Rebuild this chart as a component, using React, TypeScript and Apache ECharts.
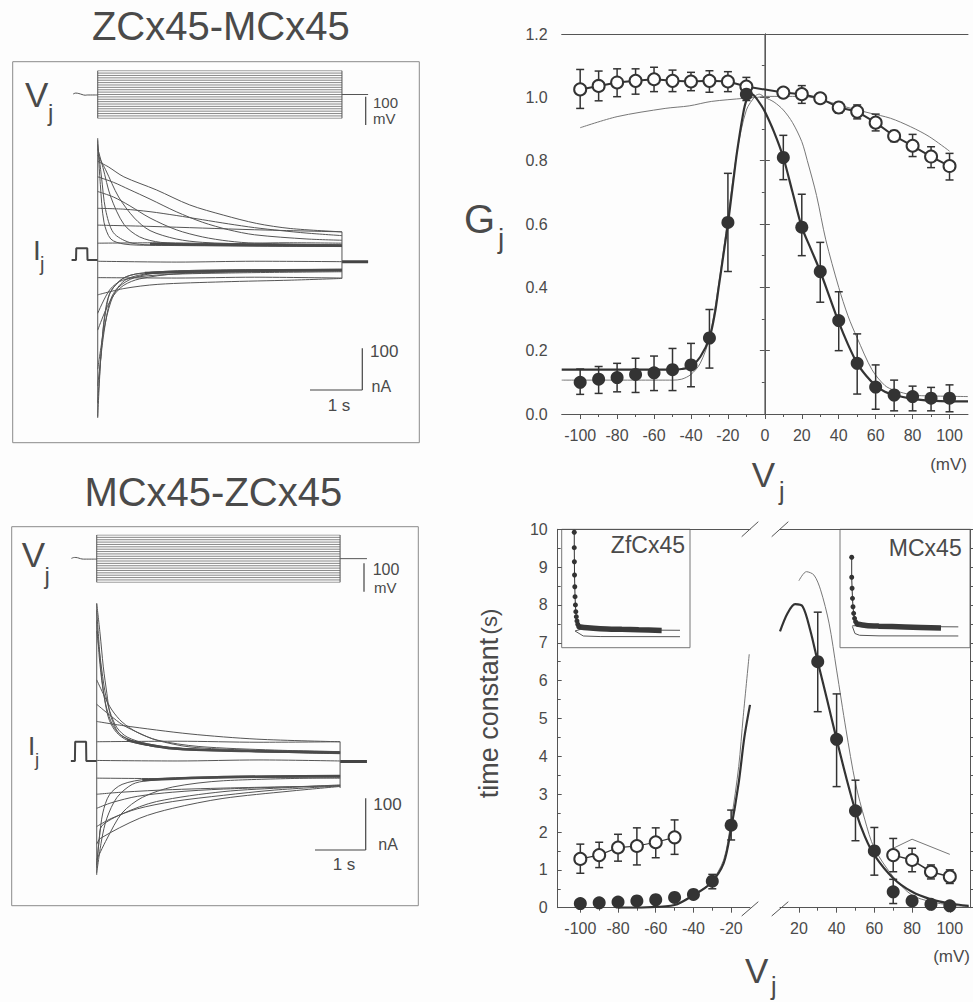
import React, { useEffect, useRef } from "react";
import * as echarts from "echarts";

const FONT = '"Liberation Sans", Arial, Helvetica, sans-serif';
const INK = "#333333";
const THIN = "#777777";
const AXIS = "#555555";
const TXT = "#4a4a4a";
const TRACE = "#555555";

// ---------- left panels: voltage protocol ----------
const VSTEPS = [-100, -90, -80, -70, -60, -50, -40, -30, -20, -10, 0, 10, 20, 30, 40, 50, 60, 70, 80, 90, 100];

// Panel A : ZCx45-MCx45  (time in s, current in nA, voltage in mV)
const A_T_END = 4.67;
const A_VJ_PRE = [[-0.47, 2], [-0.42, 6], [-0.36, 4], [-0.3, 0], [-0.24, -3], [-0.2, -2], [0, -2]];
const A_VJ_POST = [[4.67, 0], [5.17, 0]];
const A_IJ_PRE = [[-0.5, 0], [-0.415, 0], [-0.41, 28], [-0.2, 28], [-0.195, 0], [0, 0]];
const A_IJ_POST = [[4.67, -4], [5.17, -4]];
const A_SPIKE = [[0, 290], [0, -376]];
const A_END = [[4.67, 67], [4.67, -44]];
const A_TRACES = [
  [[0, 40], [1.2, 41], [2.4, 39], [3.6, 41], [4.67, 40]],
  [[0, 83], [1, 80], [2, 76], [3, 72], [4.67, 67]],
  [[0, 123], [0.5, 121], [1, 115], [1.5, 106], [2, 96], [2.5, 86], [3, 77], [3.5, 70], [4, 64], [4.67, 58]],
  [[0, 235], [0.2, 222], [0.5, 198], [1.12, 167], [1.76, 131], [2.4, 107], [3.04, 87], [3.68, 75], [4.67, 67]],
  [[0, 198], [0.3, 185], [0.6, 168], [1, 145], [1.5, 115], [2, 90], [2.5, 72], [3, 60], [4, 50], [4.67, 47]],
  [[0, 163], [0.3, 150], [0.6, 130], [1, 100], [1.5, 72], [2, 55], [2.5, 45], [3, 40], [4.67, 36]],
  [[0, 250], [0.15, 215], [0.4, 150], [0.7, 100], [1, 70], [1.5, 50], [2, 42], [3, 38], [4.67, 36]],
  [[0, 265], [0.1, 220], [0.25, 150], [0.5, 85], [0.8, 55], [1.2, 42], [2, 37], [4.67, 34]],
  [[0, 275], [0.07, 200], [0.15, 120], [0.3, 65], [0.6, 42], [1, 36], [4.67, 33]],
  [[0, 285], [0.05, 180], [0.12, 90], [0.25, 50], [0.5, 38], [1, 35], [4.67, 32]],
  [[0, -3], [1.5, -5], [3, -3], [4.67, -4]],
  [[0, -42], [1.5, -43], [3, -41], [4.67, -43]],
  [[0, -83], [0.5, -68], [1.15, -58], [2.4, -52], [3.7, -48], [4.67, -44]],
  [[0, -127], [0.23, -71], [0.48, -48], [1.12, -36], [2.5, -31], [4.67, -28]],
  [[0, -167], [0.15, -120], [0.3, -85], [0.5, -60], [0.8, -45], [1.5, -33], [3, -28], [4.67, -26]],
  [[0, -260], [0.12, -165], [0.25, -100], [0.4, -65], [0.7, -42], [1.2, -30], [2.5, -25], [4.67, -23]],
  [[0, -300], [0.1, -190], [0.2, -115], [0.3, -80], [0.55, -46], [1, -32], [2, -26], [4.67, -24]],
  [[0, -340], [0.07, -214], [0.13, -135], [0.23, -79], [0.48, -44], [0.8, -32], [1.76, -25], [4.67, -23]],
  [[0, -373], [0.05, -250], [0.1, -170], [0.17, -110], [0.25, -75], [0.48, -44], [0.8, -32], [1.76, -25], [4.67, -22]],
];
const A_BANDS = [
  [[1.0, 38], [2.5, 36], [4.67, 34]],
  [[0.9, -31], [2.5, -26], [4.67, -24]],
];

// Panel B : MCx45-ZCx45
const B_T_END = 4.8;
const B_VJ_PRE = [[-0.5, 1], [-0.44, 5], [-0.38, 4], [-0.32, 0], [-0.26, -2], [-0.2, -2], [0, -2]];
const B_VJ_POST = [[4.8, 0], [5.33, 0]];
const B_IJ_PRE = [[-0.51, 0], [-0.43, 0], [-0.425, 37], [-0.21, 37], [-0.205, 0], [0, 0]];
const B_IJ_POST = [[4.8, -1], [5.33, -1]];
const B_SPIKE = [[0, 303], [0, -219]];
const B_END = [[4.8, 37], [4.8, -52]];
const B_TRACES = [
  [[0, 37], [1.6, 38], [3.2, 36], [4.8, 37]],
  [[0, 76], [0.52, 68], [1.84, 52], [3.16, 42], [4.8, 37]],
  [[0, 109], [0.26, 88], [0.52, 69], [0.85, 53], [1.18, 40], [1.84, 27], [3, 21], [4.8, 18]],
  [[0, 156], [0.15, 125], [0.3, 98], [0.5, 75], [0.8, 55], [1.2, 40], [2, 28], [3.5, 21], [4.8, 18]],
  [[0, 250], [0.08, 190], [0.16, 135], [0.26, 95], [0.4, 64], [0.6, 46], [1, 33], [1.6, 25], [3, 19], [4.8, 16]],
  [[0, 270], [0.05, 200], [0.12, 140], [0.2, 100], [0.3, 72], [0.45, 52], [0.7, 38], [1.2, 28], [2.5, 20], [4.8, 14]],
  [[0, 290], [0.05, 220], [0.1, 160], [0.17, 110], [0.25, 78], [0.39, 55], [0.6, 40], [1, 30], [2, 22], [4.8, 16]],
  [[0, 303], [0.065, 246], [0.13, 181], [0.2, 130], [0.26, 92], [0.39, 60], [0.52, 47], [0.85, 34], [1.18, 27], [1.84, 21], [4.8, 15]],
  [[0, 1], [1.6, 0], [3.2, 2], [4.8, 0]],
  [[0, -33], [1.6, -34], [3.2, -32], [4.8, -33]],
  [[0, -64], [0.5, -60], [1.5, -55], [3, -51], [4.8, -48]],
  [[0, -91], [0.3, -80], [0.8, -68], [1.5, -60], [2.5, -54], [4.8, -47]],
  [[0, -126], [0.3, -110], [0.8, -92], [1.5, -78], [2.5, -66], [3.5, -56], [4.8, -48]],
  [[0, -160], [0.07, -149], [0.85, -110], [1.5, -91], [2.49, -72], [3.81, -58], [4.8, -49]],
  [[0, -200], [0.05, -150], [0.1, -125], [0.52, -101], [1.18, -78], [2.49, -59], [3.8, -51], [4.8, -46]],
  [[0, -215], [0.1, -150], [0.2, -110], [0.4, -70], [0.7, -45], [1, -38], [2, -32], [4.8, -30]],
  [[0, -205], [0.05, -150], [0.12, -100], [0.25, -65], [0.5, -45], [1, -35], [2.5, -30], [4.8, -28]],
  [[0, -190], [0.2, -150], [0.5, -100], [0.9, -70], [1.5, -50], [2.5, -38], [4.8, -32]],
];
const B_BANDS = [
  [[0.6, 40], [1.5, 24], [3, 19], [4.8, 16]],
  [[0.9, -37], [2.5, -31], [4.8, -29]],
];

// ---------- Gj vs Vj ----------
const GJ_V = [-100, -90, -80, -70, -60, -50, -40, -30, -20, -10, 10, 20, 30, 40, 50, 60, 70, 80, 90, 100];
const GJ_FILLED = [0.10, 0.11, 0.115, 0.125, 0.13, 0.14, 0.155, 0.24, 0.605, 1.01, 0.81, 0.59, 0.45, 0.295, 0.16, 0.085, 0.06, 0.055, 0.05, 0.05];
const GJ_FILLED_LO = [0.062, 0.065, 0.07, 0.068, 0.074, 0.074, 0.086, 0.145, 0.45, 0.99, 0.74, 0.5, 0.353, 0.2, 0.063, 0.015, 0.01, 0.01, 0.01, 0.007];
const GJ_FILLED_HI = [0.142, 0.15, 0.16, 0.176, 0.183, 0.207, 0.223, 0.33, 0.76, 1.03, 0.88, 0.694, 0.542, 0.386, 0.253, 0.155, 0.107, 0.088, 0.084, 0.092];
const GJ_OPEN = [1.025, 1.036, 1.047, 1.052, 1.057, 1.052, 1.05, 1.052, 1.05, 1.034, 1.015, 1.01, 0.997, 0.968, 0.955, 0.92, 0.878, 0.847, 0.813, 0.783];
const GJ_OPEN_LO = [0.965, 0.989, 1.002, 1.01, 1.018, 1.018, 1.021, 1.016, 1.018, 1.0, 1.0, 0.981, 0.982, 0.95, 0.932, 0.894, 0.86, 0.813, 0.778, 0.739];
const GJ_OPEN_HI = [1.088, 1.083, 1.09, 1.09, 1.095, 1.086, 1.079, 1.084, 1.081, 1.063, 1.03, 1.037, 1.012, 0.984, 0.976, 0.947, 0.895, 0.883, 0.844, 0.823];
const GJ_THICK_V = [-110, -50, -45, -40, -35, -30, -27, -25, -22, -20, -17, -15, -12, -10, -7, -5, -2, 0, 5, 10, 15, 20, 25, 30, 35, 40, 45, 50, 55, 60, 65, 70, 80, 90, 100, 110];
const GJ_THICK = [0.14, 0.14, 0.142, 0.15, 0.18, 0.24, 0.32, 0.40, 0.52, 0.60, 0.74, 0.83, 0.94, 0.99, 1.01, 1.0, 0.975, 0.955, 0.89, 0.81, 0.70, 0.59, 0.52, 0.45, 0.37, 0.29, 0.22, 0.16, 0.12, 0.09, 0.07, 0.06, 0.048, 0.042, 0.04, 0.04];
const GJ_THIN_V = [-110, -50, -45, -40, -35, -30, -25, -20, -15, -10, -5, -3, 0, 5, 10, 15, 20, 23, 28, 33, 40, 45, 50, 58, 65, 70, 80, 90, 100, 110];
const GJ_THIN = [0.107, 0.107, 0.11, 0.125, 0.16, 0.24, 0.41, 0.62, 0.83, 0.96, 1.005, 1.01, 1.0, 0.985, 0.96, 0.92, 0.86, 0.80, 0.69, 0.55, 0.40, 0.31, 0.24, 0.14, 0.09, 0.075, 0.06, 0.057, 0.056, 0.055];
const GJ_OTHIN_V = [-100, -80, -54, -41, -29, -11, -4, 0, 10, 20, 25, 34, 43, 57, 68, 79, 89, 100];
const GJ_OTHIN = [0.904, 0.939, 0.965, 0.973, 0.987, 0.997, 1.0, 1.003, 1.003, 1.003, 1.0, 0.987, 0.971, 0.95, 0.934, 0.907, 0.876, 0.83];
const GJ_XTICKS = [-100, -80, -60, -40, -20, 0, 20, 40, 60, 80, 100];
const GJ_XMINOR = [-90, -70, -50, -30, -10, 10, 30, 50, 70, 90];
const GJ_ZERO_LINE = [[0, 0], [0, 1.2]];

// ---------- time constant vs Vj ----------
const TAU_NEG_V = [-100, -90, -80, -70, -60, -50, -40, -30, -20];
const TAU_NEG_FILLED = [0.11, 0.13, 0.15, 0.18, 0.21, 0.27, 0.35, 0.70, 2.18];
const TAU_NEG_ERR_V = [-30, -20];
const TAU_NEG_ERR_LO = [0.5, 1.79];
const TAU_NEG_ERR_HI = [0.88, 2.58];
const TAU_POS_V = [30, 40, 50, 60, 70, 80, 90, 100];
const TAU_POS_FILLED = [6.5, 4.45, 2.56, 1.5, 0.42, 0.18, 0.09, 0.05];
const TAU_POS_ERR_V = [30, 40, 50, 60, 70];
const TAU_POS_ERR_LO = [5.18, 3.2, 1.77, 0.86, 0.11];
const TAU_POS_ERR_HI = [7.81, 5.65, 3.37, 2.12, 0.75];
const TAU_NEG_OPEN_V = [-100, -90, -80, -70, -60, -50];
const TAU_NEG_OPEN = [1.29, 1.39, 1.59, 1.63, 1.73, 1.86];
const TAU_NEG_OPEN_LO = [0.91, 1.06, 1.23, 1.13, 1.32, 1.41];
const TAU_NEG_OPEN_HI = [1.68, 1.73, 1.94, 2.11, 2.11, 2.32];
const TAU_POS_OPEN_V = [70, 80, 90, 100];
const TAU_POS_OPEN = [1.39, 1.26, 0.95, 0.82];
const TAU_POS_OPEN_LO = [0.95, 0.95, 0.76, 0.64];
const TAU_POS_OPEN_HI = [1.83, 1.57, 1.13, 1.0];
const TAU_POS_OPEN_FIT_V = [70, 80, 100];
const TAU_POS_OPEN_FIT = [1.57, 1.81, 1.41];
const TAU_THICK_NEG_V = [-80, -65, -50, -40, -31, -24, -20, -16, -13, -10];
const TAU_THICK_NEG = [0, 0.01, 0.07, 0.33, 0.64, 1.17, 2.1, 3.3, 4.5, 5.36];
const TAU_THIN_NEG_V = [-45, -40, -31, -24, -20, -16, -13.6, -10.4];
const TAU_THIN_NEG = [0.2, 0.34, 0.66, 1.26, 2.3, 3.73, 5.05, 6.7];
const TAU_THICK_POS_V = [10, 14, 18, 22, 26, 30, 35, 40, 45, 50, 55, 60, 70, 80, 90, 100, 110];
const TAU_THICK_POS = [7.3, 7.78, 8.02, 7.96, 7.34, 6.5, 5.49, 4.45, 3.46, 2.56, 1.88, 1.39, 0.78, 0.42, 0.22, 0.11, 0.05];
const TAU_THIN_POS_V = [20, 24, 28, 31.5, 36, 40, 45, 50, 55, 60, 70, 80, 90, 100, 110];
const TAU_THIN_POS = [8.64, 8.88, 8.79, 8.4, 7.52, 6.28, 4.7, 3.29, 2.32, 1.57, 0.82, 0.33, 0.16, 0.07, 0.03];
const TAU_XL_TICKS = [-100, -80, -60, -40, -20];
const TAU_XL_MINOR = [-90, -70, -50, -30];
const TAU_XR_TICKS = [20, 40, 60, 80, 100];
const TAU_XR_MINOR = [30, 50, 70, 90];

// ---------- insets (arbitrary units 0..100) ----------
const IN1_DOTS = [[9.8, 97.5], [9.8, 84.5], [9.9, 72.6], [10, 61.4], [10.2, 51.5], [10.4, 43.1], [10.7, 36.1], [11, 30.4], [11.4, 26.2], [11.9, 22.6], [12.5, 19.8], [13.3, 17.7]];
const IN1_TAIL = [[13.3, 17.7], [20, 16.8], [30, 16.1], [46.8, 15.5], [60, 15.1], [77.9, 14.6]];
const IN1_FIT_A = [[10.4, 14.1], [15, 15.6], [30, 15.2], [60, 14.9], [92.2, 14.7]];
const IN1_FIT_B = [[10.4, 14.1], [16.8, 9.9], [30, 9.4], [92.2, 9.3]];
const IN2_DOTS = [[9, 76.4], [9, 59.5], [9.3, 50.2], [9.6, 41.7], [10, 34.6], [10.5, 29], [11.2, 24.8], [12, 22], [13, 20]];
const IN2_TAIL = [[13, 20], [20, 18.8], [30, 18.2], [50, 17.5], [77.7, 16.6]];
const IN2_FIT_A = [[9.5, 18.5], [14, 18.6], [50, 17.9], [91, 17.6]];
const IN2_FIT_B = [[9.5, 18], [11.5, 12], [15, 10.5], [30, 10], [91, 9.9]];

const zip = (xs: number[], ys: number[]) => xs.map((x, i) => [x, ys[i]]);

function lineS(data: any[], xi: number, yi: number, color: string, width: number, extra: any = {}) {
  return {
    type: "line", xAxisIndex: xi, yAxisIndex: yi, data, showSymbol: false, symbol: "none",
    lineStyle: { color, width, opacity: 1 }, silent: true, z: 2, ...extra,
  };
}

function errBars(V: number[], lo: number[], hi: number[], xi: number, yi: number, half = 4) {
  return {
    type: "custom", xAxisIndex: xi, yAxisIndex: yi, z: 3, silent: true,
    data: V.map((v, i) => [v, lo[i], hi[i]]),
    encode: { x: 0, y: [1, 2] },
    renderItem: (_p: any, api: any) => {
      const v = api.value(0);
      const a = api.coord([v, api.value(1)]);
      const b = api.coord([v, api.value(2)]);
      const st = { stroke: INK, lineWidth: 1.5, fill: null };
      return {
        type: "group",
        children: [
          { type: "line", shape: { x1: a[0], y1: a[1], x2: b[0], y2: b[1] }, style: st },
          { type: "line", shape: { x1: a[0] - half, y1: a[1], x2: a[0] + half, y2: a[1] }, style: st },
          { type: "line", shape: { x1: b[0] - half, y1: b[1], x2: b[0] + half, y2: b[1] }, style: st },
        ],
      };
    },
  };
}

const hiddenX = (g: number, min: number, max: number) => ({ type: "value", gridIndex: g, min, max, show: false });
const hiddenY = (g: number, min: number, max: number) => ({ type: "value", gridIndex: g, min, max, show: false });
const axLine = { show: true, lineStyle: { color: AXIS, width: 1 } };
const lbl = { color: TXT, fontSize: 16, fontFamily: FONT };

function txt(text: string, x: number, y: number, size: number, align = "left", extra: any = {}) {
  return {
    type: "text", x, y, silent: true, ...extra,
    style: { text, fontSize: size, fontFamily: FONT, fill: TXT, align, verticalAlign: "middle" },
  };
}
function seg(x1: number, y1: number, x2: number, y2: number, color = AXIS, w = 1) {
  return { type: "line", silent: true, shape: { x1, y1, x2, y2 }, style: { stroke: color, lineWidth: w } };
}

const filledStyle = { color: INK, opacity: 1 };
const openStyle = { color: "#fff", borderColor: INK, borderWidth: 2, opacity: 1 };

function buildOption() {
  const grid = (left: number, top: number, width: number, height: number) => ({ left, top, width, height, containLabel: false, outerBoundsMode: "none" });
  const grids = [
    grid(70, 70.7, 300, 47.6), // 0 A Vj
    grid(70, 130, 300, 300), // 1 A Ij
    grid(70, 535, 300, 47.3), // 2 B Vj
    grid(70, 595, 300, 290), // 3 B Ij
    grid(561.7, 34, 406.3, 380), // 4 Gj
    grid(557.7, 529.3, 192.3, 378.4), // 5 tau left
    grid(780, 529.3, 190, 378.4), // 6 tau right
    grid(561.7, 529.3, 128.3, 118.4), // 7 inset1
    grid(840, 529.3, 130, 118.4), // 8 inset2
  ];

  const xAxis: any[] = [
    hiddenX(0, -0.53, 5.206), // 0
    hiddenX(1, -0.53, 5.206), // 1
    hiddenX(2, -0.527, 5.39), // 2
    hiddenX(3, -0.527, 5.39), // 3
    { type: "value", gridIndex: 4, min: -110, max: 110, position: "bottom", axisLine: axLine,
      axisTick: { show: true, customValues: GJ_XTICKS, length: 5, lineStyle: { color: AXIS } },
      axisLabel: { ...lbl, customValues: GJ_XTICKS, margin: 13 }, splitLine: { show: false } }, // 4
    { type: "value", gridIndex: 4, min: -110, max: 110, position: "bottom", axisLine: { show: false },
      axisTick: { show: true, customValues: GJ_XMINOR, length: 3, lineStyle: { color: AXIS } },
      axisLabel: { show: false }, splitLine: { show: false } }, // 5
    { type: "value", gridIndex: 4, min: -110, max: 110, position: "top", axisLine: axLine,
      axisTick: { show: false }, axisLabel: { show: false }, splitLine: { show: false } }, // 6
    { type: "value", gridIndex: 5, min: -112, max: -10, position: "bottom", axisLine: axLine,
      axisTick: { show: true, customValues: TAU_XL_TICKS, length: 5, lineStyle: { color: AXIS } },
      axisLabel: { ...lbl, customValues: TAU_XL_TICKS, margin: 13 }, splitLine: { show: false } }, // 7
    { type: "value", gridIndex: 5, min: -112, max: -10, position: "bottom", axisLine: { show: false },
      axisTick: { show: true, customValues: TAU_XL_MINOR, length: 3, lineStyle: { color: AXIS } },
      axisLabel: { show: false }, splitLine: { show: false } }, // 8
    { type: "value", gridIndex: 5, min: -112, max: -10, position: "top", axisLine: axLine,
      axisTick: { show: false }, axisLabel: { show: false }, splitLine: { show: false } }, // 9
    { type: "value", gridIndex: 6, min: 10, max: 110.7, position: "bottom", axisLine: axLine,
      axisTick: { show: true, customValues: TAU_XR_TICKS, length: 5, lineStyle: { color: AXIS } },
      axisLabel: { ...lbl, customValues: TAU_XR_TICKS, margin: 13 }, splitLine: { show: false } }, // 10
    { type: "value", gridIndex: 6, min: 10, max: 110.7, position: "bottom", axisLine: { show: false },
      axisTick: { show: true, customValues: TAU_XR_MINOR, length: 3, lineStyle: { color: AXIS } },
      axisLabel: { show: false }, splitLine: { show: false } }, // 11
    { type: "value", gridIndex: 6, min: 10, max: 110.7, position: "top", axisLine: axLine,
      axisTick: { show: false }, axisLabel: { show: false }, splitLine: { show: false } }, // 12
    hiddenX(7, 0, 100), // 13
    hiddenX(8, 0, 100), // 14
  ];

  const yAxis: any[] = [
    hiddenY(0, -100, 100), // 0
    hiddenY(1, -404.8, 309.5), // 1
    hiddenY(2, -100, 100), // 2
    hiddenY(3, -238.5, 319.2), // 3
    { type: "value", gridIndex: 4, min: 0, max: 1.2, interval: 0.2, position: "left", axisLine: axLine,
      axisTick: { show: true, length: 5, lineStyle: { color: AXIS } },
      minorTick: { show: true, splitNumber: 2, length: 3, lineStyle: { color: AXIS } },
      axisLabel: { ...lbl, margin: 14, formatter: (v: number) => v.toFixed(1) },
      splitLine: { show: false }, minorSplitLine: { show: false } }, // 4
    { type: "value", gridIndex: 4, min: 0, max: 1.2, interval: 0.2, position: "right", axisLine: axLine,
      axisTick: { show: true, length: 5, lineStyle: { color: AXIS } }, axisLabel: { show: false },
      splitLine: { show: false } }, // 5
    { type: "value", gridIndex: 5, min: 0, max: 10, interval: 1, position: "left", axisLine: axLine,
      axisTick: { show: true, inside: true, length: 4, lineStyle: { color: AXIS } },
      minorTick: { show: true, splitNumber: 2, length: 3, lineStyle: { color: AXIS } },
      axisLabel: { ...lbl, margin: 10 }, splitLine: { show: false }, minorSplitLine: { show: false } }, // 6
    { type: "value", gridIndex: 6, min: 0, max: 10, interval: 1, position: "right", axisLine: axLine,
      axisTick: { show: true, length: 5, lineStyle: { color: AXIS } },
      minorTick: { show: true, splitNumber: 2, length: 3, lineStyle: { color: AXIS } },
      axisLabel: { show: false }, splitLine: { show: false }, minorSplitLine: { show: false } }, // 7
    hiddenY(7, 0, 100), // 8
    hiddenY(8, 0, 100), // 9
  ];

  const series: any[] = [];
  // ---- left panels ----
  const panel = (xv: number, yv: number, xi: number, yi: number, tEnd: number, vPre: any, vPost: any,
    iPre: any, iPost: any, spike: any, end: any, traces: any[], bands: any[]) => {
    VSTEPS.forEach((v) => series.push(lineS([[0, v], [tEnd, v]], xv, yv, "#6a6a6a", 0.8)));
    series.push(lineS([[0, -100], [0, 100]], xv, yv, "#555", 1));
    series.push(lineS([[tEnd, -100], [tEnd, 100]], xv, yv, "#555", 1));
    series.push(lineS(vPre, xv, yv, "#555", 1, { smooth: 0.4 }));
    series.push(lineS(vPost, xv, yv, "#555", 1));
    series.push(lineS(iPre, xi, yi, "#444", 2));
    series.push(lineS(iPost, xi, yi, "#444", 3));
    series.push(lineS(spike, xi, yi, TRACE, 1));
    series.push(lineS(end, xi, yi, TRACE, 1));
    traces.forEach((t) => series.push(lineS(t, xi, yi, TRACE, 1, { smooth: 0.3 })));
    bands.forEach((t) => series.push(lineS(t, xi, yi, "#4a4a4a", 2.5, { smooth: 0.3 })));
  };
  panel(0, 0, 1, 1, A_T_END, A_VJ_PRE, A_VJ_POST, A_IJ_PRE, A_IJ_POST, A_SPIKE, A_END, A_TRACES, A_BANDS);
  panel(2, 2, 3, 3, B_T_END, B_VJ_PRE, B_VJ_POST, B_IJ_PRE, B_IJ_POST, B_SPIKE, B_END, B_TRACES, B_BANDS);

  // ---- Gj ----
  series.push(lineS(GJ_ZERO_LINE, 4, 4, "#666", 1));
  series.push(lineS(zip(GJ_OTHIN_V, GJ_OTHIN), 4, 4, THIN, 1, { smooth: 0.3 }));
  series.push(lineS(zip(GJ_THIN_V, GJ_THIN), 4, 4, THIN, 1, { smooth: 0.3 }));
  series.push(lineS(zip(GJ_THICK_V, GJ_THICK), 4, 4, INK, 2.2, { smooth: 0.3 }));
  series.push(errBars(GJ_V, GJ_OPEN_LO, GJ_OPEN_HI, 4, 4));
  series.push(errBars(GJ_V, GJ_FILLED_LO, GJ_FILLED_HI, 4, 4));
  series.push({
    type: "line", xAxisIndex: 4, yAxisIndex: 4, data: zip(GJ_V, GJ_OPEN), z: 4, silent: true,
    symbol: "circle", symbolSize: 12, showSymbol: true,
    lineStyle: { color: INK, width: 2 }, itemStyle: openStyle,
  });
  series.push({
    type: "scatter", xAxisIndex: 4, yAxisIndex: 4, data: zip(GJ_V, GJ_FILLED), z: 5, silent: true,
    symbol: "circle", symbolSize: 13, itemStyle: filledStyle,
  });

  // ---- tau left ----
  series.push(lineS(zip(TAU_THIN_NEG_V, TAU_THIN_NEG), 7, 6, THIN, 1, { smooth: 0.3 }));
  series.push(lineS(zip(TAU_THICK_NEG_V, TAU_THICK_NEG), 7, 6, INK, 2.2, { smooth: 0.3 }));
  series.push(errBars(TAU_NEG_OPEN_V, TAU_NEG_OPEN_LO, TAU_NEG_OPEN_HI, 7, 6));
  series.push(errBars(TAU_NEG_ERR_V, TAU_NEG_ERR_LO, TAU_NEG_ERR_HI, 7, 6));
  series.push({
    type: "line", xAxisIndex: 7, yAxisIndex: 6, data: zip(TAU_NEG_OPEN_V, TAU_NEG_OPEN), z: 4, silent: true,
    symbol: "circle", symbolSize: 12, showSymbol: true,
    lineStyle: { color: INK, width: 1.2 }, itemStyle: openStyle,
  });
  series.push({
    type: "scatter", xAxisIndex: 7, yAxisIndex: 6, data: zip(TAU_NEG_V, TAU_NEG_FILLED), z: 5, silent: true,
    symbol: "circle", symbolSize: 13, itemStyle: filledStyle,
  });
  // ---- tau right ----
  series.push(lineS(zip(TAU_THIN_POS_V, TAU_THIN_POS), 10, 7, THIN, 1, { smooth: 0.3 }));
  series.push(lineS(zip(TAU_THICK_POS_V, TAU_THICK_POS), 10, 7, INK, 2.2, { smooth: 0.3 }));
  series.push(lineS(zip(TAU_POS_OPEN_FIT_V, TAU_POS_OPEN_FIT), 10, 7, THIN, 1));
  series.push(errBars(TAU_POS_OPEN_V, TAU_POS_OPEN_LO, TAU_POS_OPEN_HI, 10, 7));
  series.push(errBars(TAU_POS_ERR_V, TAU_POS_ERR_LO, TAU_POS_ERR_HI, 10, 7));
  series.push({
    type: "line", xAxisIndex: 10, yAxisIndex: 7, data: zip(TAU_POS_OPEN_V, TAU_POS_OPEN), z: 4, silent: true,
    symbol: "circle", symbolSize: 12, showSymbol: true,
    lineStyle: { color: INK, width: 1.5 }, itemStyle: openStyle,
  });
  series.push({
    type: "scatter", xAxisIndex: 10, yAxisIndex: 7, data: zip(TAU_POS_V, TAU_POS_FILLED), z: 5, silent: true,
    symbol: "circle", symbolSize: 13, itemStyle: filledStyle,
  });

  // ---- insets ----
  const inset = (xi: number, yi: number, dots: any, tail: any, fa: any, fb: any) => {
    series.push(lineS(fa, xi, yi, "#555", 1));
    series.push(lineS(fb, xi, yi, "#555", 1));
    series.push(lineS(tail, xi, yi, "#3a3a3a", 5.5, { smooth: 0.3 }));
    series.push({
      type: "line", xAxisIndex: xi, yAxisIndex: yi, data: dots, silent: true, z: 4,
      symbol: "circle", symbolSize: 5, showSymbol: true,
      lineStyle: { color: INK, width: 1 }, itemStyle: filledStyle,
    });
  };
  inset(13, 8, IN1_DOTS, IN1_TAIL, IN1_FIT_A, IN1_FIT_B);
  inset(14, 9, IN2_DOTS, IN2_TAIL, IN2_FIT_A, IN2_FIT_B);

  const graphic: any[] = [
    // panel frames
    { type: "rect", silent: true, shape: { x: 12.7, y: 61.7, width: 406.6, height: 381 }, style: { fill: null, stroke: "#8a8a8a", lineWidth: 1 } },
    { type: "rect", silent: true, shape: { x: 11.7, y: 526.7, width: 406.6, height: 379 }, style: { fill: null, stroke: "#8a8a8a", lineWidth: 1 } },
    // titles
    txt("ZCx45-MCx45", 220.8, 26.3, 40, "center"),
    txt("MCx45-ZCx45", 213.3, 491.7, 40, "center"),
    // left labels
    txt("V", 25, 94.5, 35), txt("j", 48, 112, 24),
    txt("I", 33, 250.2, 28), txt("j", 40, 264.4, 20),
    txt("V", 21.7, 554.5, 35), txt("j", 44.5, 575, 24),
    txt("I", 28, 746, 26), txt("j", 35, 759, 19),
    // scale bars A
    seg(365.7, 96.7, 365.7, 125, "#444", 1.2),
    txt("100", 373, 102.5, 15), txt("mV", 373, 118.5, 15),
    seg(362.3, 348.3, 362.3, 390, "#444", 1.2), seg(310, 390, 362.3, 390, "#444", 1.2),
    txt("100", 370, 351.5, 17), txt("nA", 371.5, 386, 16), txt("1 s", 339, 405, 17, "center"),
    // scale bars B
    seg(364, 563.3, 364, 591.7, "#444", 1.2),
    txt("100", 372.7, 569, 16), txt("mV", 374, 587, 15),
    seg(365.7, 798.3, 365.7, 850, "#444", 1.2), seg(315, 850, 365.7, 850, "#444", 1.2),
    txt("100", 373.3, 804, 17), txt("nA", 378.3, 844, 16), txt("1 s", 344, 864, 17, "center"),
    // Gj axis titles
    txt("G", 464, 219, 40), txt("j", 498, 238, 28),
    txt("V", 751.7, 474.5, 35), txt("j", 779, 491, 25),
    txt("(mV)", 967, 464, 17, "right"),
    // tau axis title (rotated, reading upward)
    {
      type: "text", x: 489, y: 798.3, rotation: Math.PI / 2, silent: true,
      style: {
        text: "{a|time constant} {b|(s)}", fontFamily: FONT, fill: TXT, align: "left", verticalAlign: "middle",
        rich: { a: { fontSize: 27, fontFamily: FONT, fill: TXT }, b: { fontSize: 22, fontFamily: FONT, fill: TXT } },
      },
    },
    txt("V", 745, 970.8, 35), txt("j", 771, 986, 25),
    txt("(mV)", 970, 956, 17, "right"),
    // axis breaks
    seg(741.7, 536.7, 758.3, 521.7), seg(771.7, 536.7, 788.3, 521.7),
    seg(741.7, 916, 758.3, 901.7), seg(771.7, 916, 788.3, 901.7),
    // insets
    { type: "rect", silent: true, shape: { x: 561.7, y: 529.3, width: 128.3, height: 118.4 }, style: { fill: null, stroke: "#777", lineWidth: 1 } },
    { type: "rect", silent: true, shape: { x: 840, y: 529.3, width: 130, height: 118.4 }, style: { fill: null, stroke: "#777", lineWidth: 1 } },
    txt("ZfCx45", 685, 545, 23, "right"),
    txt("MCx45", 961.7, 548.3, 23, "right"),
  ];

  return {
    animation: false,
    backgroundColor: "#fdfdfd",
    textStyle: { fontFamily: FONT },
    grid: grids,
    xAxis,
    yAxis,
    series,
    graphic,
  };
}

export default function App() {
  const ref = useRef<HTMLDivElement>(null);
  useEffect(() => {
    const chart = echarts.init(ref.current!, null, { renderer: "svg" });
    chart.setOption(buildOption() as any);
    return () => chart.dispose();
  }, []);
  return (
    <div
      ref={ref}
      style={{ position: "fixed", left: 0, top: 0, width: 973, height: 1002, background: "#fdfdfd" }}
    />
  );
}
